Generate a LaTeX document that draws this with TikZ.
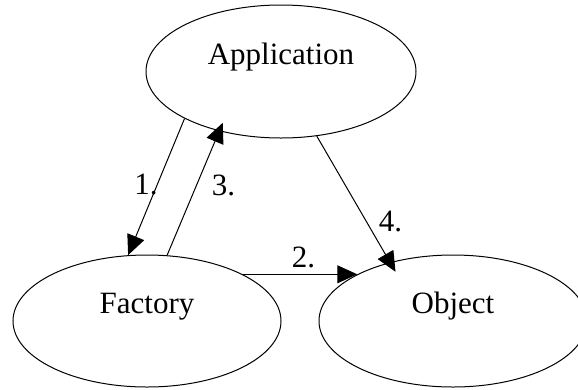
\documentclass[tikz,border=0pt]{standalone}
\usepackage{fontspec}
\setmainfont{Liberation Serif}
\usetikzlibrary{shapes.geometric,arrows.meta}
\begin{document}
\begin{tikzpicture}[x=1pt,y=-1pt,
  oval/.style={ellipse,draw,line width=1pt,inner sep=0pt,text height=21pt,text depth=36pt,font=\fontsize{31}{37}\selectfont},
  conn/.style={line width=1pt,-{Triangle[length=20pt,width=18pt]}},
  num/.style={font=\fontsize{31}{37}\selectfont,inner sep=0pt}]
\useasboundingbox (0,0) rectangle (578,389);
\node[oval,minimum width=270pt,minimum height=133pt] (app) at (281,71.5) {Application};
\node[oval,minimum width=268pt,minimum height=132pt] (fac) at (147,321) {Factory};
\node[oval,minimum width=268pt,minimum height=132pt] (obj) at (453,321) {Object};
\draw[conn] (app.206) -- node[num,pos=0.486,xshift=-11pt]{1.} (fac.106);
\draw[conn,shorten >=-9pt] (fac.73) -- node[num,pos=0.566,xshift=27pt]{3.} (app.224);
\draw[conn] (fac.26) -- node[num,pos=0.53,yshift=17pt]{2.} (obj.154);
\draw[conn,shorten >=-11pt] (app.299) -- node[num,pos=0.68,xshift=24pt]{4.} (obj.137);
\end{tikzpicture}
\end{document}
